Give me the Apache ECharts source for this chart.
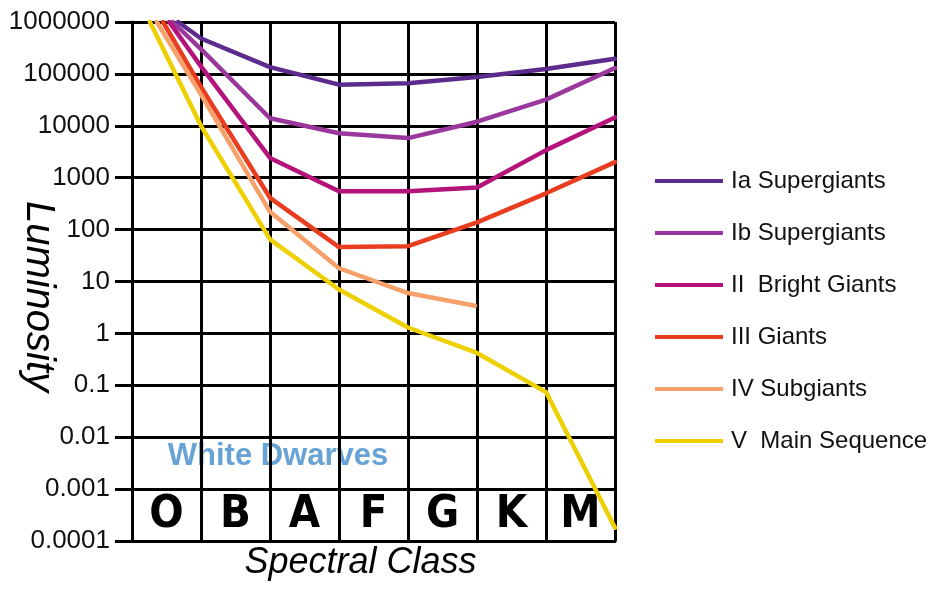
<!DOCTYPE html>
<html>
<head>
<meta charset="utf-8">
<title>Luminosity by Spectral Class</title>
<script src="https://cdn.jsdelivr.net/npm/echarts@6/dist/echarts.min.js"></script>
<style>
  html, body { margin: 0; padding: 0; background: #ffffff; }
  #chart { width: 933px; height: 589px; }
</style>
</head>
<body>
<div id="chart"></div>
<script>
// Spectral classes, one per column of the grid
const spectralClasses = ['O', 'B', 'A', 'F', 'G', 'K', 'M'];

// Luminosity tick labels, one per decade
const luminosityTicks = ['0.0001', '0.001', '0.01', '0.1', '1', '10', '100', '1000', '10000', '100000', '1000000'];

// Luminosity-class names
const classNames = ['Ia Supergiants', 'Ib Supergiants', 'II  Bright Giants', 'III Giants', 'IV Subgiants', 'V  Main Sequence'];
const classColors = ['#5b2b8e', '#9a379d', '#b3137a', '#e83d1f', '#f6a16a', '#eed000'];

// Positions along the spectral axis (column boundaries) and luminosities (L/Lsun)
const iaPos  = [0.67, 1, 2, 3, 4, 5, 6, 7];
const iaLum  = [1000000, 480000, 135000, 62000, 66000, 87000, 124000, 195000];

const ibPos  = [0.59, 1, 2, 3, 4, 5, 6, 7];
const ibLum  = [1000000, 300000, 14000, 7200, 5800, 12000, 32000, 130000];

const iiPos  = [0.54, 1, 2, 3, 4, 5, 6, 7];
const iiLum  = [1000000, 140000, 2400, 550, 550, 650, 3400, 14500];

const iiiPos = [0.45, 1, 2, 3, 4, 5, 6, 7];
const iiiLum = [1000000, 56000, 410, 46, 48, 138, 500, 2000];

const ivPos  = [0.36, 1, 2, 3, 4, 4.97];
const ivLum  = [1000000, 40000, 220, 18, 6, 3.4];

const vPos   = [0.26, 1, 2, 3, 4, 5, 6, 7];
const vLum   = [1000000, 10000, 65, 7, 1.3, 0.42, 0.074, 0.00018];

const positions = [iaPos, ibPos, iiPos, iiiPos, ivPos, vPos];
const luminosities = [iaLum, ibLum, iiLum, iiiLum, ivLum, vLum];

const FONT = "'Liberation Sans', Arial, sans-serif";
const CONDENSED = "'Liberation Sans Narrow', 'DejaVu Sans Condensed', sans-serif";

const series = classNames.map((name, i) => ({
  name: name,
  type: 'line',
  xAxisIndex: 0,
  yAxisIndex: 0,
  showSymbol: false,
  symbol: 'none',
  smooth: false,
  lineStyle: { color: classColors[i], width: 4.5, join: 'round', cap: 'round' },
  itemStyle: { color: classColors[i] },
  emphasis: { disabled: true },
  data: positions[i].map((x, j) => [x, luminosities[i][j]])
}));

const chart = echarts.init(document.getElementById('chart'), null, { renderer: 'canvas' });

chart.setOption({
  animation: false,
  backgroundColor: '#ffffff',
  grid: { left: 132, right: 318, top: 22, bottom: 48, containLabel: false, outerBoundsMode: 'none' },
  xAxis: [
    {
      type: 'value',
      position: 'bottom',
      min: 0,
      max: 7,
      interval: 1,
      axisLine: { show: true, lineStyle: { color: '#000', width: 3 } },
      axisTick: { show: false },
      axisLabel: { show: false },
      splitLine: { show: true, lineStyle: { color: '#000', width: 3 } },
      name: 'Spectral Class',
      nameLocation: 'middle',
      nameGap: 4,
      nameMoveOverlap: false,
      nameTextStyle: {
        fontFamily: FONT, fontStyle: 'italic', fontSize: 36, color: '#000',
        verticalAlign: 'top', padding: [0, 26, 0, 0]
      }
    },
    {
      type: 'category',
      position: 'bottom',
      data: spectralClasses,
      boundaryGap: true,
      axisLine: { show: false },
      axisTick: { show: false },
      splitLine: { show: false },
      axisLabel: {
        inside: true,
        margin: 3,
        fontFamily: CONDENSED,
        fontWeight: 'bold',
        fontSize: 45,
        color: '#000'
      }
    }
  ],
  yAxis: {
    type: 'log',
    logBase: 10,
    min: 0.0001,
    max: 1000000,
    interval: 1,
    splitNumber: 10,
    axisLine: { show: true, lineStyle: { color: '#000', width: 3 } },
    axisTick: { show: true, inside: false, length: 17, lineStyle: { color: '#000', width: 3 } },
    axisLabel: {
      margin: 22,
      fontFamily: FONT,
      fontSize: 26,
      color: '#111',
      formatter: (v) => luminosityTicks[Math.round(Math.log10(v)) + 4]
    },
    splitLine: { show: true, lineStyle: { color: '#000', width: 3 } },
    name: 'Luminosity',
    nameLocation: 'middle',
    nameRotate: -90,
    nameGap: 94,
    nameMoveOverlap: false,
    nameTextStyle: {
      fontFamily: FONT, fontStyle: 'italic', fontSize: 40, color: '#000',
      align: 'center', verticalAlign: 'middle', padding: [0, 0, 0, 30]
    }
  },
  legend: {
    orient: 'vertical',
    left: 650,
    top: 164,
    icon: 'rect',
    itemWidth: 68,
    itemHeight: 4,
    itemGap: 28,
    selectedMode: false,
    textStyle: { fontFamily: FONT, fontSize: 24, color: '#111', padding: [0, 0, 0, 3] },
    data: classNames
  },
  graphic: {
    elements: [
      {
        type: 'text',
        z: -1,
        x: 278,
        y: 456,
        style: {
          text: 'White Dwarves',
          font: "bold 31px 'Liberation Sans', Arial, sans-serif",
          fill: '#68a3d6',
          textAlign: 'center',
          textVerticalAlign: 'middle'
        }
      }
    ]
  },
  series: series
});
</script>
</body>
</html>
